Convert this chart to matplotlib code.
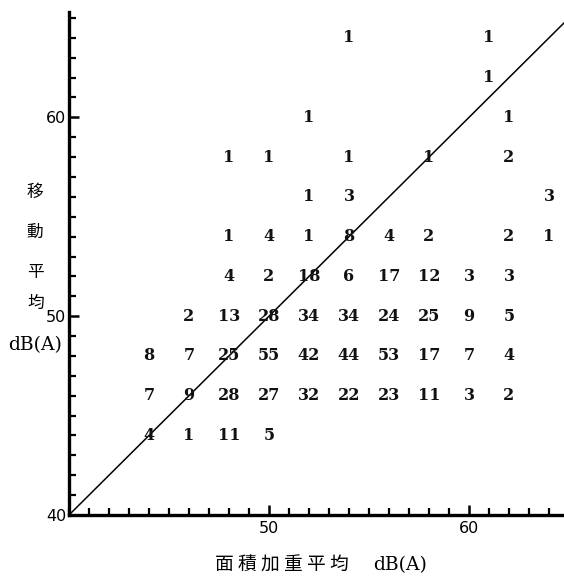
import matplotlib
matplotlib.use("Agg")
import matplotlib.pyplot as plt
from matplotlib.ticker import MultipleLocator, FixedLocator

# area weighted average (x), moving average (y), number of cases
x_db = [44, 46, 48, 50,
        44, 46, 48, 50, 52, 54, 56, 58, 60, 62,
        44, 46, 48, 50, 52, 54, 56, 58, 60, 62,
        46, 48, 50, 52, 54, 56, 58, 60, 62,
        48, 50, 52, 54, 56, 58, 60, 62,
        48, 50, 52, 54, 56, 58, 62, 64,
        52, 54, 64,
        48, 50, 54, 58, 62,
        52, 62,
        61,
        54, 61]
y_db = [44, 44, 44, 44,
        46, 46, 46, 46, 46, 46, 46, 46, 46, 46,
        48, 48, 48, 48, 48, 48, 48, 48, 48, 48,
        50, 50, 50, 50, 50, 50, 50, 50, 50,
        52, 52, 52, 52, 52, 52, 52, 52,
        54, 54, 54, 54, 54, 54, 54, 54,
        56, 56, 56,
        58, 58, 58, 58, 58,
        60, 60,
        62,
        64, 64]
counts = [4, 1, 11, 5,
          7, 9, 28, 27, 32, 22, 23, 11, 3, 2,
          8, 7, 25, 55, 42, 44, 53, 17, 7, 4,
          2, 13, 28, 34, 34, 24, 25, 9, 5,
          4, 2, 18, 6, 17, 12, 3, 3,
          1, 4, 1, 8, 4, 2, 2, 1,
          1, 3, 3,
          1, 1, 1, 1, 2,
          1, 1,
          1,
          1, 1]

y_label_chars = ["移", "動", "平", "均"]
x_label_cjk = "面 積 加 重 平 均"
unit_label = "dB(A)"

num_font = "DejaVu Serif"
cjk_font = ["Noto Sans CJK JP", "DejaVu Sans"]

fig = plt.figure(figsize=(5.64, 5.76), dpi=100)
ax = fig.add_axes([69 / 564, 61 / 576, 495 / 564, 503 / 576])

ax.set_xlim(40, 64.75)
ax.set_ylim(40, 65.3)

for xv, yv, c in zip(x_db, y_db, counts):
    ax.text(xv, yv, str(c), ha="center", va="center", fontsize=11.5,
            family=num_font, weight="bold", color="#111111")

# diagonal y = x
ax.plot([40, 66], [40, 66], color="black", lw=1.1)

ax.spines["top"].set_visible(False)
ax.spines["right"].set_visible(False)
ax.spines["left"].set_linewidth(2.4)
ax.spines["bottom"].set_linewidth(2.4)

ax.xaxis.set_major_locator(FixedLocator([50, 60]))
ax.yaxis.set_major_locator(FixedLocator([40, 50, 60]))
ax.xaxis.set_minor_locator(MultipleLocator(1))
ax.yaxis.set_minor_locator(MultipleLocator(1))
ax.tick_params(which="major", direction="in", length=7, width=1.8, labelsize=11.5, pad=4)
ax.tick_params(which="minor", direction="in", length=5, width=1.6)
ax.tick_params(axis="y", pad=2)

# vertical stacked y label
y_px = [192, 232, 272, 303]
x_px = [35, 35, 35, 36]
for ch, xp, yp in zip(y_label_chars, x_px, y_px):
    fig.text(xp / 564, 1 - yp / 576, ch, ha="center", va="center",
             fontsize=12, family=cjk_font)
fig.text(35 / 564, 1 - 345 / 576, unit_label, ha="center", va="center",
         fontsize=13.5, family="DejaVu Serif")

fig.text(282 / 564, 1 - 565 / 576, x_label_cjk, ha="center", va="center",
         fontsize=13.5, family=cjk_font)
fig.text(400 / 564, 1 - 565 / 576, unit_label, ha="center", va="center",
         fontsize=13.5, family="DejaVu Serif")

fig.savefig("out.png", dpi=100)
